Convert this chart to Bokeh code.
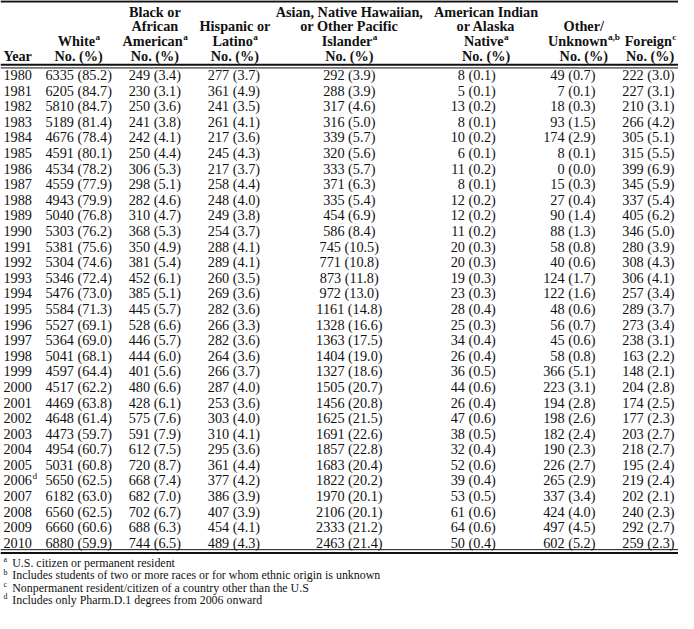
from bokeh.plotting import figure
from bokeh.models import Range1d, ColumnDataSource
from bokeh.core.properties import value
from bokeh.embed import file_html
from bokeh.resources import INLINE

# ---------------- data ----------------
years = list(range(1980, 2011))
white_n = [6335, 6205, 5810, 5189, 4676, 4591, 4534, 4559, 4943, 5040, 5303, 5381, 5304, 5346, 5476, 5584,
           5527, 5364, 5041, 4597, 4517, 4469, 4648, 4473, 4954, 5031, 5650, 6182, 6560, 6660, 6880]
white_pct = [85.2, 84.7, 84.7, 81.4, 78.4, 80.1, 78.2, 77.9, 79.9, 76.8, 76.2, 75.6, 74.6, 72.4, 73.0, 71.3,
             69.1, 69.0, 68.1, 64.4, 62.2, 63.8, 61.4, 59.7, 60.7, 60.8, 62.5, 63.0, 62.5, 60.6, 59.9]
black_n = [249, 230, 250, 241, 242, 250, 306, 298, 282, 310, 368, 350, 381, 452, 385, 445,
           528, 446, 444, 401, 480, 428, 575, 591, 612, 720, 668, 682, 702, 688, 744]
black_pct = [3.4, 3.1, 3.6, 3.8, 4.1, 4.4, 5.3, 5.1, 4.6, 4.7, 5.3, 4.9, 5.4, 6.1, 5.1, 5.7,
             6.6, 5.7, 6.0, 5.6, 6.6, 6.1, 7.6, 7.9, 7.5, 8.7, 7.4, 7.0, 6.7, 6.3, 6.5]
hisp_n = [277, 361, 241, 261, 217, 245, 217, 258, 248, 249, 254, 288, 289, 260, 269, 282,
          266, 282, 264, 266, 287, 253, 303, 310, 295, 361, 377, 386, 407, 454, 489]
hisp_pct = [3.7, 4.9, 3.5, 4.1, 3.6, 4.3, 3.7, 4.4, 4.0, 3.8, 3.7, 4.1, 4.1, 3.5, 3.6, 3.6,
            3.3, 3.6, 3.6, 3.7, 4.0, 3.6, 4.0, 4.1, 3.6, 4.4, 4.2, 3.9, 3.9, 4.1, 4.3]
asian_n = [292, 288, 317, 316, 339, 320, 333, 371, 335, 454, 586, 745, 771, 873, 972, 1161,
           1328, 1363, 1404, 1327, 1505, 1456, 1625, 1691, 1857, 1683, 1822, 1970, 2106, 2333, 2463]
asian_pct = [3.9, 3.9, 4.6, 5.0, 5.7, 5.6, 5.7, 6.3, 5.4, 6.9, 8.4, 10.5, 10.8, 11.8, 13.0, 14.8,
             16.6, 17.5, 19.0, 18.6, 20.7, 20.8, 21.5, 22.6, 22.8, 20.4, 20.2, 20.1, 20.1, 21.2, 21.4]
amind_n = [8, 5, 13, 8, 10, 6, 11, 8, 12, 12, 11, 20, 20, 19, 23, 28,
           25, 34, 26, 36, 44, 26, 47, 38, 32, 52, 39, 53, 61, 64, 50]
amind_pct = [0.1, 0.1, 0.2, 0.1, 0.2, 0.1, 0.2, 0.1, 0.2, 0.2, 0.2, 0.3, 0.3, 0.3, 0.3, 0.4,
             0.3, 0.4, 0.4, 0.5, 0.6, 0.4, 0.6, 0.5, 0.4, 0.6, 0.4, 0.5, 0.6, 0.6, 0.4]
other_n = [49, 7, 18, 93, 174, 8, 0, 15, 27, 90, 88, 58, 40, 124, 122, 48,
           56, 45, 58, 366, 223, 194, 198, 182, 190, 226, 265, 337, 424, 497, 602]
other_pct = [0.7, 0.1, 0.3, 1.5, 2.9, 0.1, 0.0, 0.3, 0.4, 1.4, 1.3, 0.8, 0.6, 1.7, 1.6, 0.6,
             0.7, 0.6, 0.8, 5.1, 3.1, 2.8, 2.6, 2.4, 2.3, 2.7, 2.9, 3.4, 4.0, 4.5, 5.2]
foreign_n = [222, 227, 210, 266, 305, 315, 399, 345, 337, 405, 346, 280, 308, 306, 257, 289,
             273, 238, 163, 148, 204, 174, 177, 203, 218, 195, 219, 202, 240, 292, 259]
foreign_pct = [3.0, 3.1, 3.1, 4.2, 5.1, 5.5, 6.9, 5.9, 5.4, 6.2, 5.0, 3.9, 4.3, 4.1, 3.4, 3.7,
               3.4, 3.1, 2.2, 2.1, 2.8, 2.5, 2.3, 2.7, 2.7, 2.4, 2.4, 2.1, 2.3, 2.7, 2.3]

year_notes = {2006: "d"}

# header: (lines top->bottom, superscript on which line index, superscript text)
headers = [
    (["White", "No. (%)"], 0, "a"),
    (["Black or", "African", "American", "No. (%)"], 2, "a"),
    (["Hispanic or", "Latino", "No. (%)"], 1, "a"),
    (["Asian, Native Hawaiian,", "or Other Pacific", "Islander", "No. (%)"], 2, "a"),
    (["American Indian", "or Alaska", "Native", "No. (%)"], 2, "a"),
    (["Other/", "Unknown", "No. (%)"], 1, "a,b"),
    (["Foreign", "No. (%)"], 0, "c"),
]
footnotes = [
    ("a", "U.S. citizen or permanent resident"),
    ("b", "Includes students of two or more races or for whom ethnic origin is unknown"),
    ("c", "Nonpermanent resident/citizen of a country other than the U.S"),
    ("d", "Includes only Pharm.D.1 degrees from 2006 onward"),
]

# ---------------- layout ----------------
W, H = 678, 613
RW, RH = 694, 629
S = W / RW

FONT = "Liberation Serif"
BODY = 14.6
HEAD = 14.6
SUP = 9.5
FOOT = 12.2

def fs(ref):
    return f"{ref * S:.2f}px"

# Times bold approx widths (per em)
BW = {' ': .25, 'A': .722, 'B': .667, 'C': .722, 'F': .611, 'H': .778, 'I': .389, 'L': .667, 'N': .722,
      'O': .778, 'P': .611, 'U': .722, 'W': 1.0, 'Y': .722, 'a': .5, 'b': .556, 'c': .444, 'd': .556,
      'e': .444, 'f': .333, 'g': .5, 'h': .556, 'i': .278, 'k': .556, 'l': .278, 'm': .833, 'n': .556,
      'o': .5, 'r': .444, 's': .389, 't': .333, 'u': .556, 'w': .722, 'x': .5, 'y': .5, ',': .25,
      '.': .25, '/': .278, '(': .333, ')': .333, '%': 1.0}

def bwidth(s, size):
    return sum(BW.get(c, .5) for c in s) * size

p = figure(width=W, height=H, x_range=Range1d(0, RW), y_range=Range1d(RH, 0),
           x_axis_type=None, y_axis_type=None, toolbar_location=None, output_backend="svg",
           min_border=0, outline_line_color=None, background_fill_color="white",
           border_fill_color="white")
p.grid.visible = False

row0, dy = 76.5, 16.0
ys = [row0 + dy * i for i in range(len(years))]

def txt(x, y, t, size, align="left", bold=False, color="#111111"):
    src = ColumnDataSource(dict(x=x, y=y, t=t))
    p.text("x", "y", "t", source=src, text_font=value(FONT), text_font_size=fs(size),
           text_align=align, text_baseline="middle", text_color=color,
           text_font_style="bold" if bold else "normal")

# year column
txt([3] * len(years), ys, [str(y) for y in years], BODY)
for yr, note in year_notes.items():
    i = years.index(yr)
    txt([3 + 2.0 * BODY + 0.5], [ys[i] - 4.5], [note], SUP)

cols = [
    (white_n, white_pct, 80, "center"),
    (black_n, black_pct, 158, "center"),
    (hisp_n, hisp_pct, 239, "center"),
    (asian_n, asian_pct, 357, "center"),
    (amind_n, amind_pct, 507, "right"),
    (other_n, other_pct, 609, "right"),
    (foreign_n, foreign_pct, 690, "right"),
]
for n, pc, x, al in cols:
    labels = [f"{a} ({b:.1f})" for a, b in zip(n, pc)]
    txt([x] * len(labels), ys, labels, BODY, align=al)

# headers
head_x = [80, 158, 240, 357, 497, 597, 665]
hy_bottom, hdy = 56.5, 15.0
txt([3], [hy_bottom], ["Year"], HEAD, bold=True)
for (lines, si, sup), cx in zip(headers, head_x):
    nl = len(lines)
    for k, line in enumerate(lines):
        y = hy_bottom - hdy * (nl - 1 - k)
        if k == si:
            wm = bwidth(line, HEAD)
            ws = bwidth(sup, SUP)
            jx = cx + (wm - ws) / 2
            txt([jx], [y], [line], HEAD, align="right", bold=True)
            txt([jx + 0.5], [y - 4.5], [sup], SUP, bold=True)
        else:
            txt([cx], [y], [line], HEAD, align="center", bold=True)

# rules
def rule(y, w):
    p.segment(x0=[0], y0=[y], x1=[RW], y1=[y], line_color="#111111", line_width=w)

rule(1.0, 2.2)
rule(66.0, 2.0)
rule(69.2, 1.0)
rule(563.5, 1.0)
rule(566.8, 2.0)

# footnotes
fy0, fdy = 577.5, 12.5
for i, (letter, note) in enumerate(footnotes):
    y = fy0 + fdy * i
    txt([3], [y - 3.5], [letter], SUP * 0.85)
    txt([12], [y], [note], FOOT)

open("out.html", "w").write(file_html(p, INLINE))
